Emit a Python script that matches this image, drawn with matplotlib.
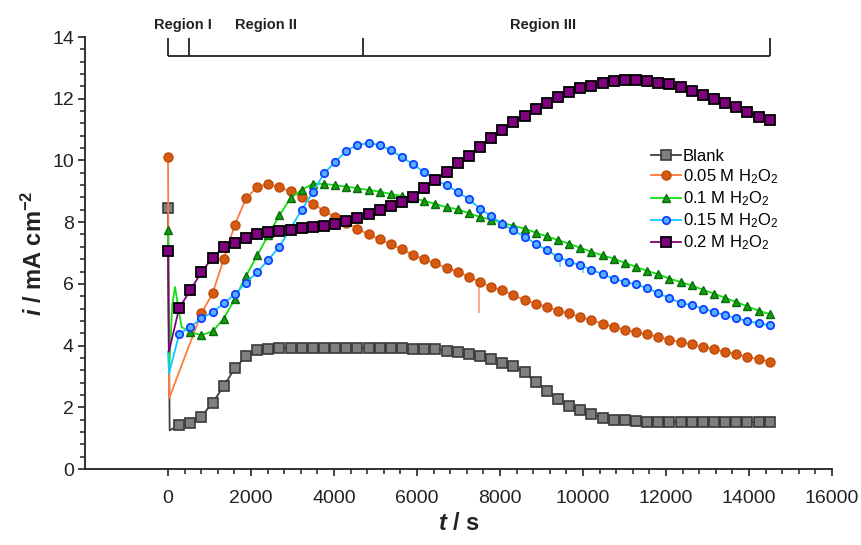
import matplotlib
matplotlib.use("Agg")
import matplotlib.pyplot as plt
from matplotlib.ticker import MultipleLocator
import numpy as np

plt.rcParams['font.family'] = ['Liberation Sans', 'DejaVu Sans']
plt.rcParams['mathtext.fontset'] = 'custom'
plt.rcParams['mathtext.it'] = 'Liberation Sans:italic:bold'
plt.rcParams['mathtext.default'] = 'regular'

# sampling times of the marked points (s)
t_grid = np.linspace(0, 14500, 55)

# first few seconds (spike + dip), drawn as line only except t=0
blank_head_t = [0, 40]
blank_head = [8.45, 1.25]
orange_head_t = [0, 30]
orange_head = [10.12, 2.3]
green_head_t = [0, 25, 100, 170, 240, 330]
green_head = [7.75, 3.1, 5.3, 5.9, 5.3, 4.6]
blue_head_t = [0, 25]
blue_head = [3.8, 3.1]
purple_head_t = [0, 20]
purple_head = [7.05, 3.8]

# values on t_grid (blank/blue/purple from k=1, green from k=2, orange from k=3)
blank = [1.43, 1.50, 1.70, 2.15, 2.68, 3.27, 3.65, 3.87, 3.89, 3.92,
         3.93, 3.92, 3.93, 3.92, 3.92, 3.92, 3.93, 3.92, 3.92, 3.92,
         3.91, 3.90, 3.89, 3.88, 3.84, 3.79, 3.73, 3.65, 3.56, 3.45,
         3.33, 3.13, 2.82, 2.54, 2.28, 2.05, 1.91, 1.78, 1.66, 1.60,
         1.58, 1.55, 1.53, 1.52, 1.52, 1.52, 1.52, 1.52, 1.52, 1.52,
         1.52, 1.52, 1.52, 1.52]
orange = [5.05, 5.69, 6.80, 7.92, 8.77, 9.13, 9.24, 9.13, 9.00, 8.80,
          8.59, 8.37, 8.16, 7.98, 7.79, 7.60, 7.44, 7.28, 7.12, 6.93,
          6.80, 6.66, 6.52, 6.39, 6.23, 6.06, 5.90, 5.79, 5.63, 5.48,
          5.36, 5.25, 5.13, 5.04, 4.93, 4.82, 4.71, 4.60, 4.52, 4.44,
          4.36, 4.28, 4.19, 4.11, 4.04, 3.96, 3.89, 3.79, 3.72, 3.63,
          3.57, 3.47]
green = [4.43, 4.34, 4.46, 4.87, 5.52, 6.25, 6.92, 7.58, 8.22, 8.78,
         9.05, 9.24, 9.24, 9.20, 9.15, 9.10, 9.04, 8.99, 8.91, 8.85,
         8.77, 8.69, 8.59, 8.48, 8.42, 8.29, 8.17, 8.08, 7.98, 7.88,
         7.79, 7.66, 7.54, 7.42, 7.30, 7.17, 7.04, 6.92, 6.82, 6.68,
         6.55, 6.42, 6.31, 6.17, 6.06, 5.95, 5.81, 5.68, 5.55, 5.41,
         5.27, 5.13, 5.02]
blue = [4.37, 4.61, 4.88, 5.08, 5.37, 5.66, 6.04, 6.37, 6.78, 7.20,
        7.80, 8.40, 8.97, 9.58, 9.95, 10.31, 10.50, 10.56, 10.50, 10.33,
        10.11, 9.87, 9.62, 9.36, 9.19, 8.98, 8.74, 8.44, 8.19, 7.95,
        7.73, 7.52, 7.30, 7.09, 6.88, 6.72, 6.60, 6.46, 6.31, 6.17,
        6.06, 5.98, 5.86, 5.70, 5.53, 5.39, 5.30, 5.20, 5.09, 4.98,
        4.88, 4.80, 4.72, 4.66]
purple = [5.21, 5.79, 6.38, 6.85, 7.19, 7.31, 7.48, 7.61, 7.68, 7.70,
          7.75, 7.81, 7.83, 7.87, 7.94, 8.04, 8.13, 8.26, 8.39, 8.52,
          8.64, 8.83, 9.10, 9.38, 9.62, 9.92, 10.15, 10.45, 10.73, 11.00,
          11.25, 11.43, 11.68, 11.86, 12.05, 12.23, 12.34, 12.42, 12.51, 12.58,
          12.60, 12.60, 12.58, 12.52, 12.47, 12.38, 12.26, 12.13, 11.98, 11.86,
          11.72, 11.57, 11.42, 11.30]

# short glitches in the raw current
orange_glitch_t = [7500, 9650]
orange_glitch_hi = [6.07, 5.05]
orange_glitch_lo = [5.05, 4.83]
blue_glitch_t = [9450, 10000]
blue_glitch_hi = [6.85, 6.58]
blue_glitch_lo = [6.55, 6.35]

region_edges = [0, 500, 4700, 14500]
region_names = ['Region I', 'Region II', 'Region III']
region_centers = [360, 2360, 9040]

labels = ['Blank', '0.05 M H$_2$O$_2$', '0.1 M H$_2$O$_2$',
          '0.15 M H$_2$O$_2$', '0.2 M H$_2$O$_2$']

fig = plt.figure(figsize=(8.62, 5.45), dpi=100)
ax = fig.add_axes([85 / 862, 1 - 469 / 545, (832 - 85) / 862, (469 - 37) / 545])


def series(head_t, head, k0, vals):
    t = list(head_t) + list(t_grid[k0:])
    v = list(head) + list(vals)
    return t, v


styles = [
    dict(color='#404040', marker='s', ms=6.5, mfc='#7f7f7f', mec='#3a3a3a', mew=1.2),
    dict(color='#ff7a3c', marker='o', ms=6.5, mfc='#d55a12', mec='#c04a08', mew=1.0),
    dict(color='#10e010', marker='^', ms=6.2, mfc='#10a010', mec='#0a6a0a', mew=1.0),
    dict(color='#10c8ff', marker='o', ms=5.3, mfc='#55b0ff', mec='#1040ff', mew=1.3),
    dict(color='#800080', marker='s', ms=7, mfc='#800080', mec='#000000', mew=1.3),
]
data = [
    (blank_head_t, blank_head, 1, blank, True),
    (orange_head_t, orange_head, 3, orange, True),
    (green_head_t, green_head, 2, green, True),
    (blue_head_t, blue_head, 1, blue, False),
    (purple_head_t, purple_head, 1, purple, True),
]

ax.vlines(orange_glitch_t, orange_glitch_lo, orange_glitch_hi, color='#ff9a7a', lw=1.2, zorder=1)
ax.vlines(blue_glitch_t, blue_glitch_lo, blue_glitch_hi, color='#60d8ff', lw=1.2, zorder=1)

for (ht, hv, k0, vals, mark0), st, lab in zip(data, styles, labels):
    t, v = series(ht, hv, k0, vals)
    n_head = len(ht)
    me = ([0] if mark0 else []) + list(range(n_head, len(t)))
    ax.plot(t, v, lw=1.3, markevery=me, label=lab, **st)

# region bar at the top
ax.hlines(13.38, region_edges[0], region_edges[-1], color='#222222', lw=1.3, zorder=5)
ax.vlines(region_edges, 13.38, 13.97, color='#222222', lw=1.3, zorder=5)
for name, xc in zip(region_names, region_centers):
    ax.text(xc, 14.38, name, ha='center', va='center', fontsize=10.5,
            fontweight='bold', color='#222222', clip_on=False)

ax.set_xlim(-2000, 16000)
ax.set_ylim(0, 14)
ax.set_xticks(np.arange(0, 16001, 2000))
ax.set_xticks(np.arange(0, 16001, 400), minor=True)
ax.yaxis.set_major_locator(MultipleLocator(2))
ax.yaxis.set_minor_locator(MultipleLocator(0.4))
for s in ['top', 'right']:
    ax.spines[s].set_visible(False)
for s in ['left', 'bottom']:
    ax.spines[s].set_linewidth(1.3)
    ax.spines[s].set_color('#222222')
ax.tick_params(which='major', direction='out', length=5, width=1.2, colors='#222222',
               labelsize=14)
ax.tick_params(which='minor', direction='out', length=3.5, width=1.1, colors='#222222')
ax.tick_params(axis='x', pad=10)
ax.tick_params(axis='y', pad=3)

ax.set_xlabel(r'$\mathit{t}$ / s', fontsize=17, fontweight='bold', color='#222222', labelpad=4)
ax.set_ylabel(r'$\mathit{i}$ / mA cm$^{-2}$', fontsize=17, fontweight='bold', color='#222222',
              labelpad=4)

ax.legend(loc='upper left', bbox_to_anchor=(651 / 862, 1 - 149 / 545),
          bbox_transform=fig.transFigure, frameon=False, fontsize=12,
          handlelength=1.8, handletextpad=0.1, labelspacing=0.2,
          borderpad=0, borderaxespad=0, numpoints=1)

fig.savefig('out.png', dpi=100)
